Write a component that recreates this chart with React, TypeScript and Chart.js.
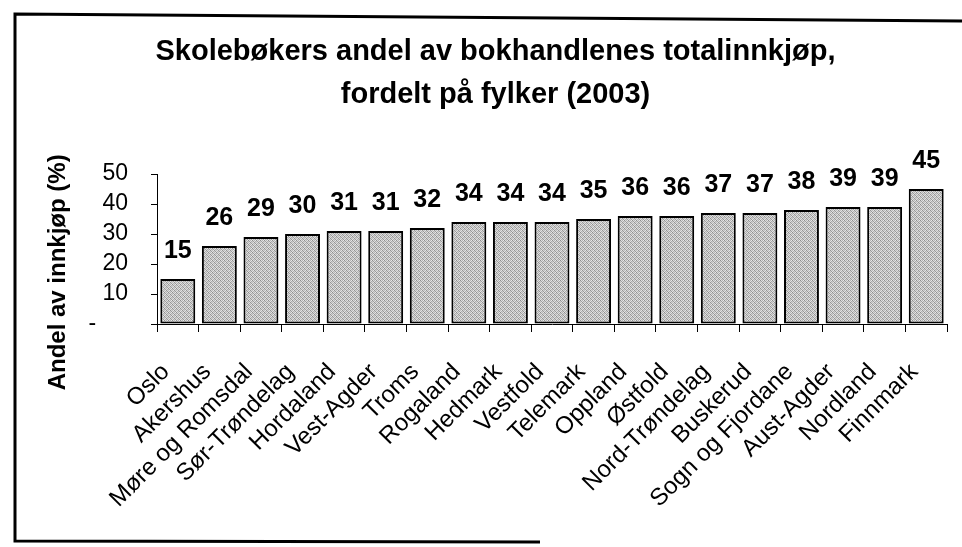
import React, { useEffect, useRef } from "react";
import { Chart, registerables } from "chart.js";

Chart.register(...registerables);

const categories = [
  "Oslo",
  "Akershus",
  "Møre og Romsdal",
  "Sør-Trøndelag",
  "Hordaland",
  "Vest-Agder",
  "Troms",
  "Rogaland",
  "Hedmark",
  "Vestfold",
  "Telemark",
  "Oppland",
  "Østfold",
  "Nord-Trøndelag",
  "Buskerud",
  "Sogn og Fjordane",
  "Aust-Agder",
  "Nordland",
  "Finnmark",
];
const shares = [15, 26, 29, 30, 31, 31, 32, 34, 34, 34, 35, 36, 36, 37, 37, 38, 39, 39, 45];
const yTicks = [0, 10, 20, 30, 40, 50];
const titleLines = ["Skolebøkers andel av bokhandlenes totalinnkjøp,", "fordelt på fylker (2003)"];
const yTitle = "Andel av innkjøp (%)";

const FONT = "'Liberation Sans', Arial, Helvetica, sans-serif";

function makePattern(): CanvasPattern | string {
  const c = document.createElement("canvas");
  c.width = 4;
  c.height = 4;
  const g = c.getContext("2d");
  if (!g) return "#b8b8b8";
  const cells = [
    "#8e8e8e", "#dcdcdc", "#b4b4b4", "#e8e8e8",
    "#cccccc", "#a0a0a0", "#e0e0e0", "#acacac",
    "#bcbcbc", "#e4e4e4", "#949494", "#d4d4d4",
    "#e2e2e2", "#b0b0b0", "#d0d0d0", "#9a9a9a",
  ];
  cells.forEach((col, i) => {
    g.fillStyle = col;
    g.fillRect(i % 4, Math.floor(i / 4), 1, 1);
  });
  const p = g.createPattern(c, "repeat");
  return p || "#b8b8b8";
}

const framePlugin = {
  id: "frame",
  beforeDraw(chart: any) {
    const ctx = chart.ctx;
    ctx.save();
    ctx.fillStyle = "#ffffff";
    ctx.fillRect(0, 0, chart.width, chart.height);
    ctx.strokeStyle = "#000000";
    ctx.lineWidth = 3;
    ctx.beginPath();
    ctx.moveTo(962, 21);
    ctx.lineTo(15, 14);
    ctx.lineTo(15, 541);
    ctx.lineTo(540, 542);
    ctx.stroke();
    ctx.restore();
  },
};

const valueLabelPlugin = {
  id: "valueLabels",
  afterDatasetsDraw(chart: any) {
    const ctx = chart.ctx;
    const meta = chart.getDatasetMeta(0);
    ctx.save();
    ctx.font = `bold 25px ${FONT}`;
    ctx.fillStyle = "#000000";
    ctx.textAlign = "center";
    ctx.textBaseline = "middle";
    meta.data.forEach((bar: any, i: number) => {
      ctx.fillText(String(shares[i]), bar.x, bar.y - 28);
    });
    ctx.restore();
  },
};

export default function App() {
  const ref = useRef<HTMLCanvasElement>(null);

  useEffect(() => {
    if (!ref.current) return;
    const pattern = makePattern();
    const chart = new Chart(ref.current, {
      type: "bar",
      data: {
        labels: categories,
        datasets: [
          {
            data: shares,
            backgroundColor: pattern as any,
            borderColor: "#000000",
            borderWidth: 2,
            borderSkipped: false,
            categoryPercentage: 1,
            barPercentage: 0.84,
          },
        ],
      },
      options: {
        responsive: false,
        animation: false,
        events: [],
        layout: { padding: { left: 44, right: 15, top: 0, bottom: 0 } },
        plugins: {
          legend: { display: false },
          tooltip: { enabled: false },
          title: {
            display: true,
            text: titleLines,
            color: "#000000",
            font: { family: FONT, size: 29, weight: "bold", lineHeight: 1.5 },
            padding: { top: 30, bottom: 57 },
          },
        },
        scales: {
          x: {
            afterFit(scale: any) {
              scale.height = 547 - 324;
              scale.paddingLeft = 0;
              scale.paddingRight = 0;
            },
            grid: {
              display: true,
              drawOnChartArea: false,
              drawTicks: true,
              tickLength: 8,
              color: "#000000",
              offset: true,
            },
            border: { display: true, color: "#000000", width: 1 },
            ticks: {
              autoSkip: false,
              minRotation: 45,
              maxRotation: 45,
              padding: 26,
              labelOffset: -12,
              color: "#000000",
              font: { family: FONT, size: 24 },
            },
          },
          y: {
            min: 0,
            max: 50,
            afterFit(scale: any) {
              scale.width = 157 - 44;
              scale.paddingTop = 0;
              scale.paddingBottom = 0;
            },
            afterBuildTicks(scale: any) {
              scale.ticks = yTicks.map((v) => ({ value: v }));
            },
            grid: {
              display: true,
              drawOnChartArea: false,
              drawTicks: true,
              tickLength: 6,
              color: "#000000",
            },
            border: { display: true, color: "#000000", width: 1 },
            ticks: {
              autoSkip: false,
              padding: 23,
              color: "#000000",
              font: { family: FONT, size: 23 },
              callback: (v: any) => (Number(v) === 0 ? "-     " : String(v)),
            },
            title: {
              display: true,
              text: yTitle + "       ",
              color: "#000000",
              font: { family: FONT, size: 24, weight: "bold" },
              padding: 0,
            },
          },
        },
      },
      plugins: [framePlugin, valueLabelPlugin],
    });
    return () => chart.destroy();
  }, []);

  return (
    <div style={{ position: "absolute", left: 0, top: 0, width: 962, height: 547, background: "#fff" }}>
      <canvas ref={ref} width={962} height={547} style={{ display: "block" }} />
    </div>
  );
}
